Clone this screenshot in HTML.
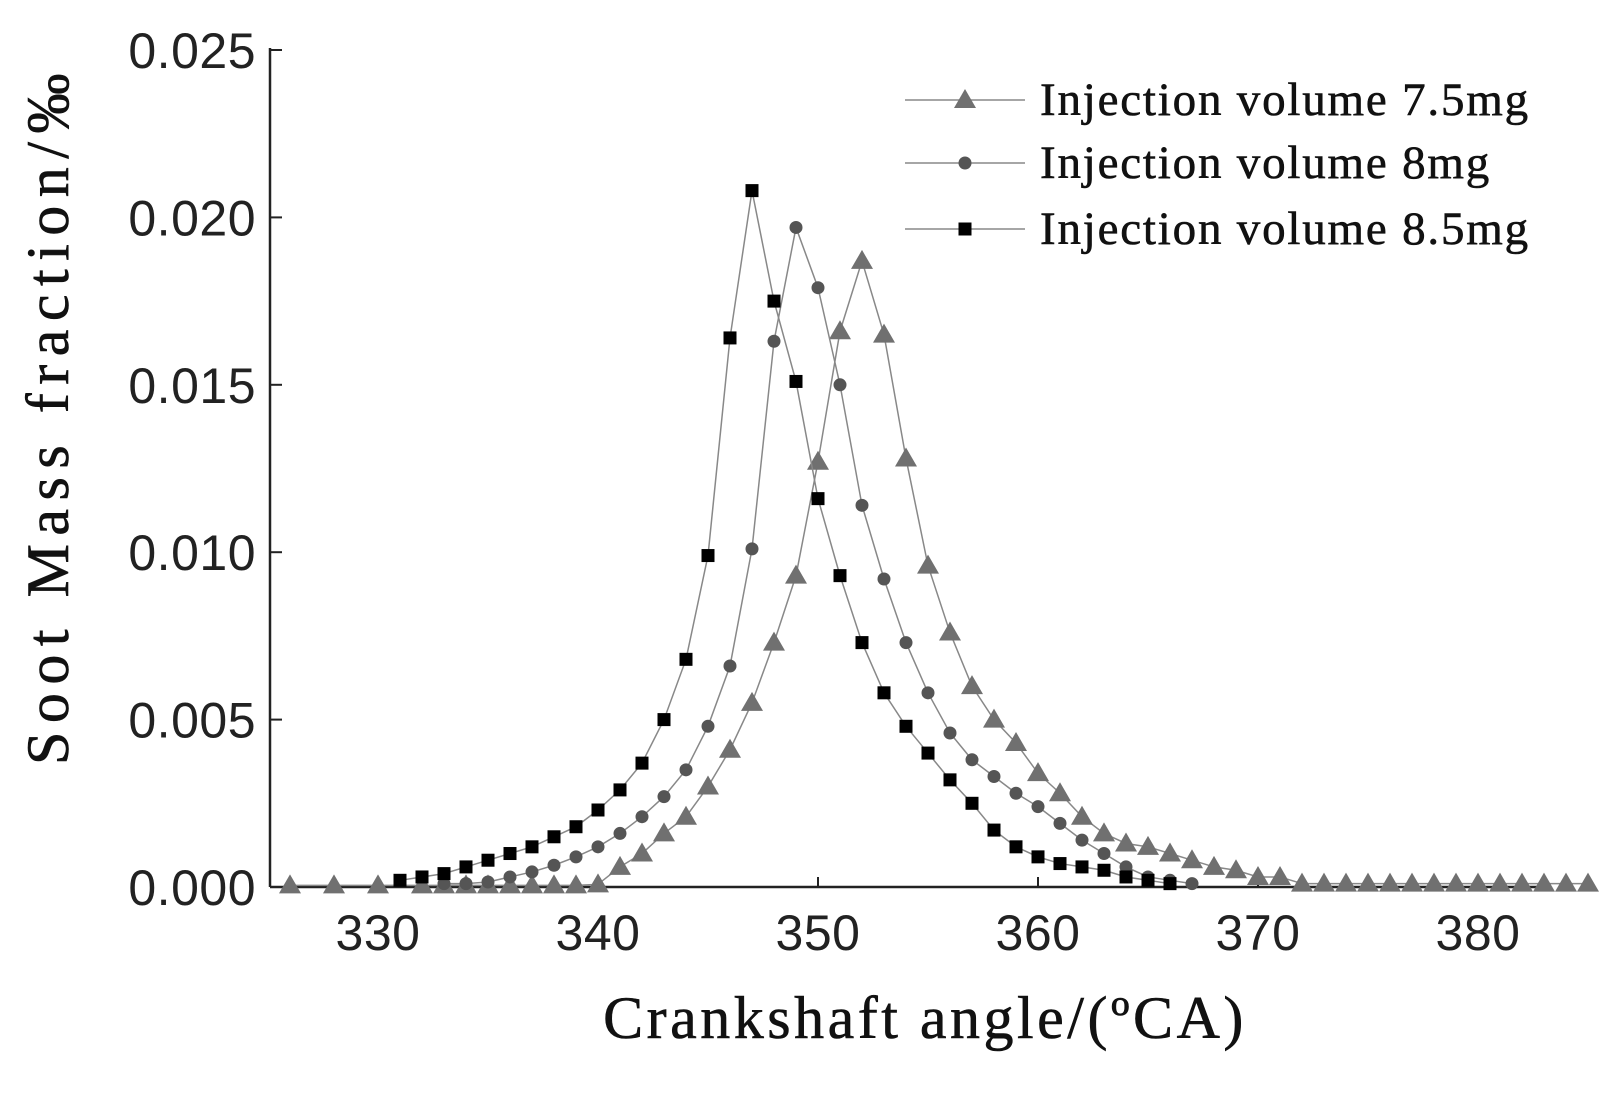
<!DOCTYPE html>
<html><head><meta charset="utf-8"><style>
body{margin:0;background:#fff;}
svg{display:block;}
.tk{font-family:"Liberation Sans",sans-serif;font-size:50px;letter-spacing:0.5px;fill:#222;}
.sf{font-family:"Liberation Serif",serif;fill:#111;stroke:#111;stroke-width:0.6;}
</style></head><body>
<svg id="chart" width="1599" height="1093">
<g id="axes"></g><g id="series"></g><g id="legend"></g>
<text class="sf" x="925" y="1038" font-size="60" letter-spacing="3.5" text-anchor="middle">Crankshaft angle/(ºCA)</text>
<text class="sf" transform="translate(68,415) rotate(-90)" font-size="60" letter-spacing="8.5" text-anchor="middle">Soot Mass fraction/‰</text>
</svg>
<script>
const xTicks=[330,340,350,360,370,380];
const yTicks=[0,0.005,0.010,0.015,0.020,0.025];
const yTickLabels=["0.000","0.005","0.010","0.015","0.020","0.025"];
const seriesNames=["Injection volume 7.5mg","Injection volume 8mg","Injection volume 8.5mg"];
const xTri=[326,328,330,332,333,334,335,336,337,338,339,340,341,342,343,344,345,346,347,348,349,350,351,352,353,354,355,356,357,358,359,360,361,362,363,364,365,366,367,368,369,370,371,372,373,374,375,376,377,378,379,380,381,382,383,384,385];
const yTri=[0.00005,0.00005,0.00005,0.00005,0.00005,0.00005,0.00005,0.00005,0.00005,0.00005,0.00005,0.00008,0.0006,0.001,0.0016,0.0021,0.003,0.0041,0.0055,0.0073,0.0093,0.0127,0.0166,0.0187,0.0165,0.0128,0.0096,0.0076,0.006,0.005,0.0043,0.0034,0.0028,0.0021,0.0016,0.0013,0.0012,0.001,0.0008,0.0006,0.0005,0.0003,0.0003,0.0001,0.0001,0.0001,0.0001,0.0001,0.0001,0.0001,0.0001,0.0001,0.0001,0.0001,0.0001,0.0001,0.0001];
const xCir=[333,334,335,336,337,338,339,340,341,342,343,344,345,346,347,348,349,350,351,352,353,354,355,356,357,358,359,360,361,362,363,364,365,366,367];
const yCir=[0.0001,0.0001,0.00015,0.0003,0.00045,0.00065,0.0009,0.0012,0.0016,0.0021,0.0027,0.0035,0.0048,0.0066,0.0101,0.0163,0.0197,0.0179,0.015,0.0114,0.0092,0.0073,0.0058,0.0046,0.0038,0.0033,0.0028,0.0024,0.0019,0.0014,0.001,0.0006,0.0003,0.0002,0.0001];
const xSq=[331,332,333,334,335,336,337,338,339,340,341,342,343,344,345,346,347,348,349,350,351,352,353,354,355,356,357,358,359,360,361,362,363,364,365,366];
const ySq=[0.0002,0.0003,0.0004,0.0006,0.0008,0.001,0.0012,0.0015,0.0018,0.0023,0.0029,0.0037,0.005,0.0068,0.0099,0.0164,0.0208,0.0175,0.0151,0.0116,0.0093,0.0073,0.0058,0.0048,0.004,0.0032,0.0025,0.0017,0.0012,0.0009,0.0007,0.0006,0.0005,0.0003,0.0002,0.0001];
const NS="http://www.w3.org/2000/svg";
const X=v=>378+(v-330)*22;
const Y=v=>887-v*(837/0.025);
function mk(tag,attrs,parent){const e=document.createElementNS(NS,tag);for(const k in attrs)e.setAttribute(k,attrs[k]);parent.appendChild(e);return e;}
const ax=document.getElementById('axes');
let l=mk('line',{x1:270,y1:887,x2:1545,y2:887,stroke:'#222','stroke-width':2.5},ax);


l=mk('line',{x1:270,y1:887,x2:270,y2:48,stroke:'#222','stroke-width':2.5},ax);


xTicks.forEach(v=>{mk('line',{x1:X(v),y1:887,x2:X(v),y2:877,stroke:'#222','stroke-width':2},ax);
const t=mk('text',{x:X(v),y:950,'text-anchor':'middle',class:'tk'},ax);t.textContent=v;

});
yTicks.forEach((v,i)=>{mk('line',{x1:270,y1:Y(v),x2:282,y2:Y(v),stroke:'#222','stroke-width':2},ax);
const t=mk('text',{x:256,y:Y(v)+18,'text-anchor':'end',class:'tk'},ax);t.textContent=yTickLabels[i];

});
function marker(type,cx,cy,g,color){
if(type==='tri')return mk('polygon',{points:`${cx},${cy-11} ${cx-11},${cy+8} ${cx+11},${cy+8}`,fill:color},g);
if(type==='cir')return mk('circle',{cx:cx,cy:cy,r:6.5,fill:color},g);
return mk('rect',{x:cx-6.5,y:cy-6.5,width:13,height:13,fill:color},g);}
const sg=document.getElementById('series');
const defs=[['tri',xTri,yTri,'#707070','series-7-5mg'],['cir',xCir,yCir,'#555','series-8mg'],['sq',xSq,ySq,'#000','series-8-5mg']];
defs.forEach(([type,xs,ys,color,name])=>{
const g=mk('g',{},sg);


mk('polyline',{points:xs.map((x,i)=>X(x)+','+Y(ys[i])).join(' '),fill:'none',stroke:'#888','stroke-width':1.5},g);
xs.forEach((x,i)=>{const m=marker(type,X(x),Y(ys[i]),g,color);

});});
const lg=document.getElementById('legend');
const ly=[100,163,229];
defs.forEach(([type,,,color],i)=>{
const g=mk('g',{},lg);


mk('line',{x1:905,y1:ly[i],x2:1025,y2:ly[i],stroke:'#888','stroke-width':1.5},g);
marker(type,965,ly[i],g,color);
const t=mk('text',{x:1040,y:ly[i]+15,'font-size':47,'letter-spacing':1.8,class:'sf'},g);t.textContent=seriesNames[i];});
</script>
</body></html>
